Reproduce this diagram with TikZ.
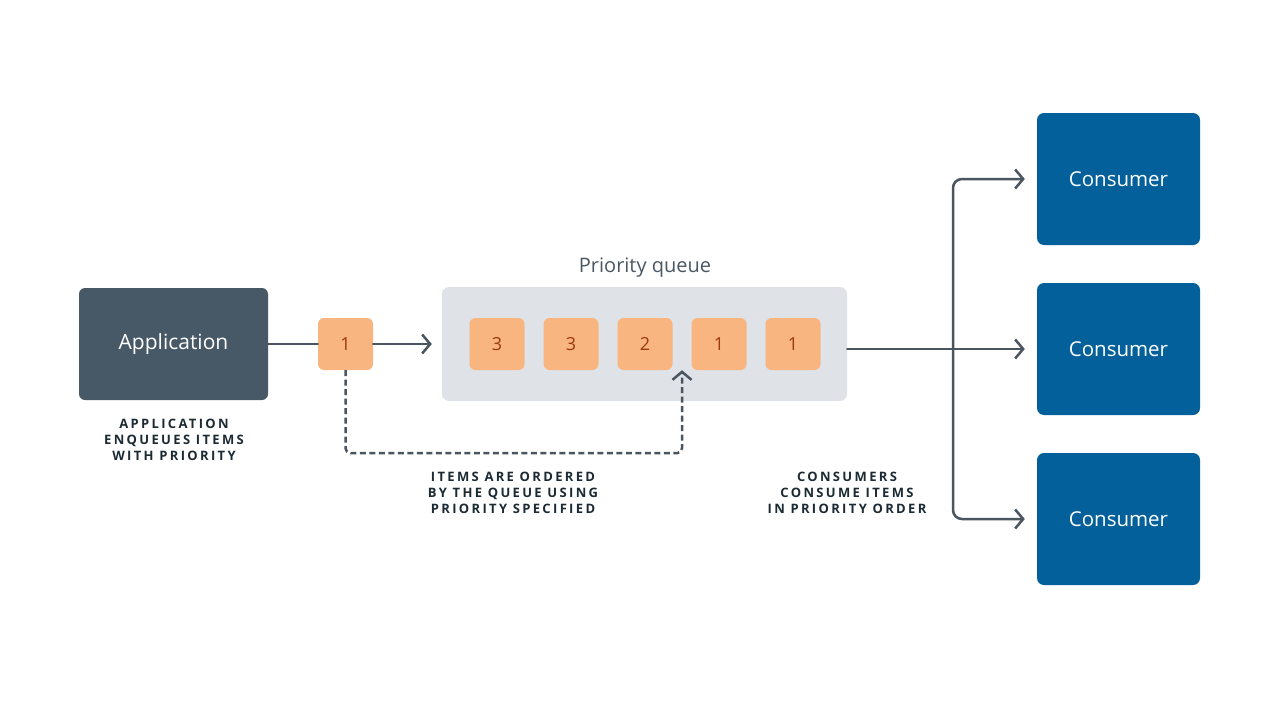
\documentclass[tikz,border=0pt]{standalone}
\usepackage{fontspec}
\setmainfont{Open Sans}
\newfontfamily\capsfont[LetterSpace=18]{Open Sans}
\usetikzlibrary{arrows.meta,positioning,calc}

\definecolor{appgray}{HTML}{475866}
\definecolor{itemorange}{HTML}{F8B57F}
\definecolor{itemtext}{HTML}{9E3A12}
\definecolor{queuegray}{HTML}{DFE3E8}
\definecolor{titlegray}{HTML}{4B5863}
\definecolor{consblue}{HTML}{04609A}
\definecolor{linegray}{HTML}{4A5560}
\definecolor{notetext}{HTML}{1C2B33}

\begin{document}
\begin{tikzpicture}[x=1pt,y=-1pt,
    appbox/.style={rounded corners=6pt, fill=appgray, text=white,
        minimum width=189pt, minimum height=112pt,
        font=\fontsize{21}{25}\selectfont},
    itembox/.style={rounded corners=6pt, fill=itemorange, text=itemtext,
        minimum width=55pt, minimum height=52pt, inner sep=0pt,
        font=\fontsize{18}{21}\selectfont},
    queuebox/.style={rounded corners=7pt, fill=queuegray,
        minimum width=405pt, minimum height=114pt},
    consbox/.style={rounded corners=7pt, fill=consblue, text=white,
        minimum width=163pt, minimum height=132pt,
        font=\fontsize{20.5}{24}\selectfont},
    note/.style={align=center, text=notetext,
        font=\capsfont\bfseries\fontsize{13}{16}\selectfont},
    flow/.style={draw=linegray, line width=2.5pt, line cap=round},
    tip/.style={-{Straight Barb[length=8pt,width=19pt]}}
]
    \fill[white] (0,0) rectangle (1280,720);
    \useasboundingbox (0,0) rectangle (1280,720);

    % producer side
    \node[appbox] (app) at (173.5,344) {Application};
    \node[itembox] (item) at (345.5,344) {1};
    \node[note] (applabel) at (174,440) {APPLICATION\\ENQUEUES ITEMS\\WITH PRIORITY};

    % the queue and what sits in it
    \node[queuebox] (queue) at (644.5,344) {};
    \node[text=titlegray, font=\fontsize{20}{24}\selectfont] (qtitle) at (645,268) {Priority queue};
    \foreach \p [count=\i] in {3,3,2,1,1} {
        \node[itembox] (q\i) at (423+74*\i,344) {\p};
    }
    \node[note] (orderlabel) at (513,493) {ITEMS ARE ORDERED\\BY THE QUEUE USING\\PRIORITY SPECIFIED};

    % consumers
    \foreach \y [count=\i] in {179,349,519} {
        \node[consbox] (cons\i) at (1118.5,\y) {Consumer};
    }
    \node[note] (conslabel) at (847,493) {CONSUMERS\\CONSUME ITEMS\\IN PRIORITY ORDER};

    % arrows
    \draw[flow] (app) -- (item);
    \draw[flow, tip, shorten >=10pt] (item) -- (queue.west);

    \coordinate (slot) at ($(q3.south east)!0.5!(q4.south west)$);
    \draw[flow, tip, dash pattern=on 6pt off 3.5pt, line cap=butt, rounded corners=5pt]
        (item.south) -- ++(0,83) -| (slot);

    \coordinate (split) at (953,349);
    \draw[flow, tip, shorten >=12pt] (queue.east |- cons2.west) -- (cons2.west);
    \draw[flow, tip, shorten >=12pt, rounded corners=9pt] (split) |- (cons1.west);
    \draw[flow, tip, shorten >=12pt, rounded corners=9pt] (split) |- (cons3.west);

\end{tikzpicture}
\end{document}
